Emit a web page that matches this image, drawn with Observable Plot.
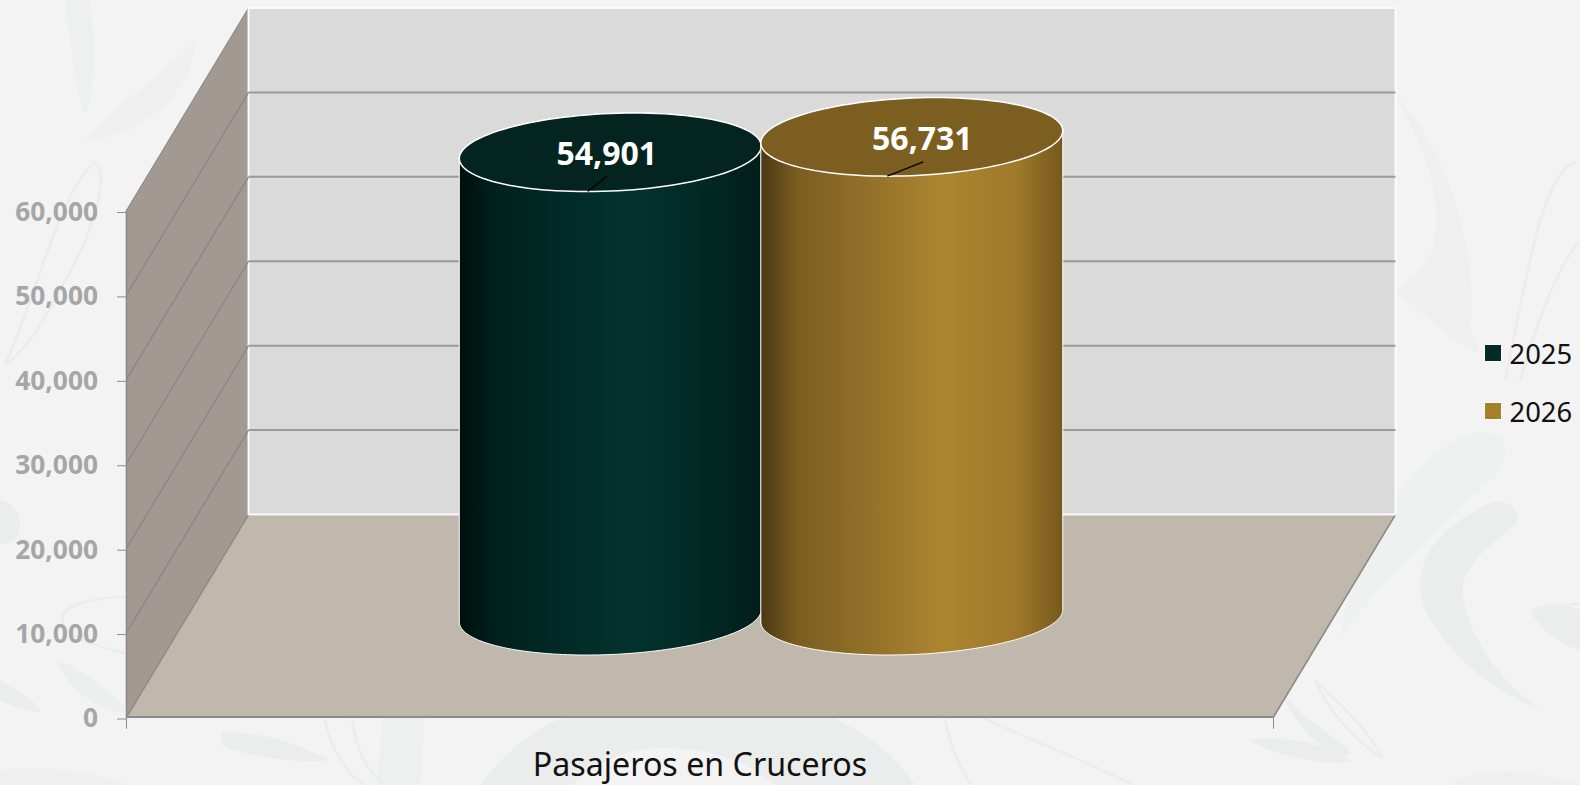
<!DOCTYPE html>
<html>
<head>
<meta charset="utf-8">
<script src="https://cdn.jsdelivr.net/npm/d3@7"></script>
<script src="https://cdn.jsdelivr.net/npm/@observablehq/plot@0.6"></script>
<style>
html,body{margin:0;padding:0;width:1580px;height:785px;overflow:hidden;background:#f3f3f3;font-family:"Noto Sans",sans-serif}
#watermark{position:absolute;left:0;top:0}
#chart{position:absolute;left:0;top:0}
.legend{position:absolute;left:1485px;display:flex;align-items:center;font-size:27.4px;color:#111;height:36px}
.legend i{display:block;width:16px;height:16px;margin-right:8.5px;box-shadow:0 0 0 .7px #fff}
</style>
</head>
<body>
<svg id="watermark" width="1580" height="785" viewBox="0 0 1580 785">
  <g fill="#ebecec">
    <path d="M1542 710C1490 690 1447 653 1425 610C1410 570 1430 530 1493 502C1510 500 1520 510 1517 522C1500 540 1470 555 1463 585C1460 625 1500 685 1542 710Z"/>
    <path d="M1395 290C1440 330 1500 380 1470 330C1480 240 1440 140 1395 95C1440 170 1460 260 1395 290Z" opacity=".5"/>
    <path d="M1340 640C1370 590 1420 550 1500 470C1520 430 1480 420 1440 450C1390 490 1350 560 1340 640Z" opacity=".55"/>
    <path d="M1280 690C1300 740 1340 760 1350 755C1355 745 1310 730 1280 690Z"/>
    <path d="M1250 740C1270 755 1320 765 1352 762C1330 745 1290 735 1250 740Z"/>
    <path d="M222 733C260 730 300 745 330 760C300 765 240 755 222 745Z"/>
    <path d="M0 500C20 505 25 525 15 540L0 545Z"/>
    <path d="M55 660C80 665 120 700 130 712C100 715 70 690 55 660Z" opacity=".8"/>
    <path d="M0 680C15 690 35 700 42 712C25 712 10 705 0 700Z"/>
    <path d="M65 0C70 40 75 90 85 115C95 100 95 40 90 0Z" opacity=".6"/>
    <path d="M85 140C120 100 170 70 195 40C195 90 140 140 85 140Z" opacity=".45"/>
    <path d="M480 785C510 745 545 722 570 716H830C870 735 900 760 915 785H775C740 755 700 748 660 748C630 748 600 760 572 785Z"/>
    <path d="M382 716H425L420 785H378Z" opacity=".7"/>
    <path d="M0 770C60 760 130 785 130 785H0Z" opacity=".5"/>
    <path d="M1450 785C1480 765 1530 770 1580 785Z" opacity=".5"/>
    <path d="M1530 610C1550 600 1570 605 1580 610V650C1560 645 1540 630 1530 610Z"/>
  </g>
  <g fill="none" stroke="#ebecec" stroke-width="2.5">
    <path d="M170 600C120 592 65 600 62 618C60 640 120 655 175 662"/>
    <path d="M325 720C330 745 345 775 365 785M352 718C355 745 365 770 385 785"/>
    <path d="M944 716C950 745 960 770 972 785M979 716C1030 740 1085 760 1133 785M1315 680C1330 715 1360 745 1382 757C1365 725 1335 700 1315 680"/>
    <path d="M1505 380C1525 290 1540 175 1575 162M1520 380C1535 330 1555 270 1580 240"/>
    <path d="M1580 605C1555 600 1558 625 1580 640"/>
    <path d="M5 365C35 300 60 190 95 162C110 175 95 230 60 290C40 330 20 355 5 365"/>
  </g>
</svg>
<div id="chart"></div>
<script>
const years = ["2025", "2026"];
const passengers = [54901, 56731];
const category = "Pasajeros en Cruceros";
const yTicks = [0, 10000, 20000, 30000, 40000, 50000, 60000];
const gridValues = [10000, 20000, 30000, 40000, 50000];
const capColors = ["#03241f", "#7c5f20"];
const legendColors = ["#032c29", "#a67e2c"];
const gradientStops = [
  [["0%", "#000f0d"], ["12%", "#01211d"], ["58%", "#03332e"], ["100%", "#021e1b"]],
  [["0%", "#4b3814"], ["12%", "#7a5d20"], ["60%", "#ad8531"], ["85%", "#9f792a"], ["100%", "#76581c"]]
];

// Oblique projection: depth z in [0,1] shifts a point along x and y
const DEPTH_X = 0.1064, DEPTH_Y = 23987;
const BAND = 0.2629, RADIUS = 0.1300, RADIUS_Z = 0.194;
const project = (x, z, v) => ({x: x + z * DEPTH_X, y: v + z * DEPTH_Y});
const arc = (cx, v, t0, t1) => d3.range(0, 121).map(i => {
  const t = t0 + (t1 - t0) * i / 120;
  return project(cx + RADIUS * Math.cos(t), 0.5 + RADIUS_Z * Math.sin(t), v);
});
const tilt = Math.atan2(RADIUS_Z * DEPTH_X, RADIUS);
const centers = years.map((_, i) => 0.5 + (i - 0.5) * BAND);
const bodies = passengers.map((v, i) => [
  ...arc(centers[i], 0, Math.PI + tilt, 2 * Math.PI + tilt),
  ...arc(centers[i], v, tilt, Math.PI + tilt)
]);
const caps = passengers.map((v, i) => arc(centers[i], v, 0, 2 * Math.PI));

const floor = [project(0,0,0), project(1,0,0), project(1,1,0), project(0,1,0)];
const side = [project(0,0,0), project(0,1,0), project(0,1,60000), project(0,0,60000)];
const back = [project(0,1,0), project(1,1,0), project(1,1,60000), project(0,1,60000)];

const labelShift = [-0.003, 0.0092];
const labelLift = [-300, -370];
const leaderFrom = [[0.001, -0.194], [-0.0007, -0.194]];
const leaderTo = [[0.0097, -0.1185], [0.0231, -0.1235]];

const defs = () => {
  const d = d3.create("svg:defs");
  gradientStops.forEach((stops, i) => {
    const g = d.append("linearGradient").attr("id", "g" + years[i]);
    stops.forEach(([o, c]) => g.append("stop").attr("offset", o).attr("stop-color", c));
  });
  return d.node();
};
const poly = (pts, o) => Plot.line([...pts, pts[0]], {x: "x", y: "y", ...o});

const plot = Plot.plot({
  width: 1580, height: 785,
  marginLeft: 126, marginRight: 307, marginTop: 210, marginBottom: 68.5,
  style: {background: "transparent", fontFamily: '"Noto Sans",sans-serif', overflow: "visible"},
  x: {domain: [0, 1], axis: null},
  y: {domain: [0, 60000], axis: null},
  marks: [
    defs,
    poly(floor, {fill: "#c0b7ad", stroke: "#8c8c8a", strokeWidth: 1.6}),
    poly(side, {fill: "#a29a92", stroke: "#8f8c88", strokeWidth: 1.2}),
    poly(back, {fill: "#dadada", stroke: "#fbfbfb", strokeWidth: 2}),
    Plot.link(gridValues, {x1: () => 0, y1: d => d, x2: () => DEPTH_X, y2: d => d + DEPTH_Y, stroke: "#878682", strokeWidth: 1.3}),
    Plot.link(gridValues, {x1: () => DEPTH_X, y1: d => d + DEPTH_Y, x2: () => 1 + DEPTH_X, y2: d => d + DEPTH_Y, stroke: "#9a9a9a", strokeWidth: 2}),
    Plot.axisY({ticks: yTicks, tickFormat: d3.format(","), tickSize: 9, tickPadding: 19.5, stroke: "#8c8c8c", fill: "#a6a6a6", fontSize: 26.3, fontWeight: 700, label: null, dy: 2}),
    Plot.ruleX([0], {y1: 0, y2: 60000, stroke: "#8c8c8c", strokeWidth: 1.5}),
    Plot.ruleY([0], {x1: 0, x2: 1, stroke: "#8c8c8c", strokeWidth: 2}),
    Plot.link([0, 1], {x1: d => d, x2: d => d, y1: () => 0, y2: () => -1400, stroke: "#8c8c8c", strokeWidth: 1}),
    Plot.axisX({ticks: [0.5], tickFormat: () => category, tickSize: 0, tickPadding: 36, fill: "#111", fontSize: 32.2, label: null}),
    ...years.flatMap((y, i) => [
      poly(bodies[i], {fill: `url(#g${y})`, stroke: "#fff", strokeWidth: 1}),
      poly(caps[i], {fill: capColors[i], stroke: "#fff", strokeWidth: 1.5})
    ]),
    Plot.link(years.map((_, i) => i), {
      x1: i => project(centers[i] + leaderFrom[i][0], 0.5 + leaderFrom[i][1], passengers[i]).x,
      y1: i => project(centers[i], 0.5 + leaderFrom[i][1], passengers[i]).y,
      x2: i => project(centers[i] + leaderTo[i][0], 0.5 + leaderTo[i][1], passengers[i]).x,
      y2: i => project(centers[i], 0.5 + leaderTo[i][1], passengers[i]).y,
      stroke: "#000", strokeWidth: 1.2
    }),
    Plot.text(years.map((_, i) => i), {
      x: i => project(centers[i] + labelShift[i], 0.5, 0).x,
      y: i => project(0, 0.5, passengers[i] + labelLift[i]).y,
      text: i => d3.format(",")(passengers[i]),
      fill: "#fff", fontSize: 32, fontWeight: 700
    })
  ]
});
document.getElementById("chart").append(plot);

years.forEach((y, i) => {
  const row = document.createElement("div");
  row.className = "legend";
  row.style.top = (335 + i * 58) + "px";
  row.innerHTML = `<i style="background:${legendColors[i]}"></i><span>${y}</span>`;
  document.body.append(row);
});
</script>
</body>
</html>
